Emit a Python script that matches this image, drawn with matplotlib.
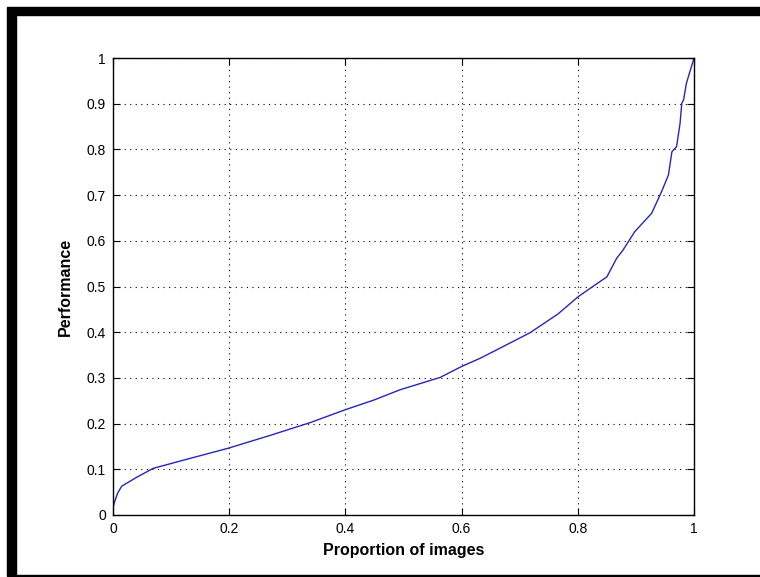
import matplotlib.pyplot as plt
from matplotlib.patches import Rectangle

# curve
proportion = [0.0, 0.002, 0.008, 0.015, 0.04, 0.069, 0.13, 0.198, 0.27, 0.339, 0.399, 0.45,
              0.494, 0.563, 0.600, 0.632, 0.666, 0.718, 0.766, 0.801, 0.827, 0.850, 0.867,
              0.878, 0.887, 0.898, 0.927, 0.944, 0.956, 0.962, 0.970, 0.976, 0.979, 0.982,
              0.987, 1.0]
performance = [0.015, 0.026, 0.048, 0.063, 0.082, 0.102, 0.123, 0.146, 0.174, 0.202, 0.230, 0.252,
               0.274, 0.301, 0.325, 0.343, 0.365, 0.399, 0.440, 0.478, 0.501, 0.521, 0.562,
               0.580, 0.598, 0.620, 0.660, 0.707, 0.744, 0.795, 0.806, 0.857, 0.901, 0.908,
               0.945, 1.0]

xticks = [0, 0.2, 0.4, 0.6, 0.8, 1]
yticks = [0, 0.1, 0.2, 0.3, 0.4, 0.5, 0.6, 0.7, 0.8, 0.9, 1]

plt.rcParams['font.family'] = ['Liberation Sans', 'DejaVu Sans']

W, H = 760, 577
fig = plt.figure(figsize=(W / 100, H / 100), dpi=100)

# window frame: heavy top and left, thin bottom
fig.patches.append(Rectangle((7 / W, 1 - 15 / H), 1 - 7 / W, 8 / H, transform=fig.transFigure,
                             color='black', zorder=0))
fig.patches.append(Rectangle((7 / W, 2 / H), 9 / W, 1 - 17 / H, transform=fig.transFigure,
                             color='black', zorder=0))
fig.patches.append(Rectangle((7 / W, 1 / H), 1 - 7 / W, 1.5 / H, transform=fig.transFigure,
                             color='black', zorder=0))

ax = fig.add_axes([113 / W, 62 / H, 581 / W, 457 / H])
ax.plot(proportion, performance, color='#2626b8', linewidth=1.0)

ax.set_xlim(0, 1)
ax.set_ylim(0, 1)
ax.set_xticks(xticks)
ax.set_yticks(yticks)
ax.set_xticklabels([f'{t:g}' for t in xticks])
ax.set_yticklabels([f'{t:g}' for t in yticks])
ax.grid(True, color='black', linestyle=(0, (1, 4)), linewidth=0.8)
ax.tick_params(direction='in', length=5, top=True, right=True, labelsize=10, pad=5)
for s in ax.spines.values():
    s.set_linewidth(1.0)

ax.set_xlabel('Proportion of images', fontsize=11.5, fontweight='bold', labelpad=5)
ax.set_ylabel('Performance', fontsize=11.5, fontweight='bold', labelpad=10)

fig.savefig('out.png', dpi=100)
